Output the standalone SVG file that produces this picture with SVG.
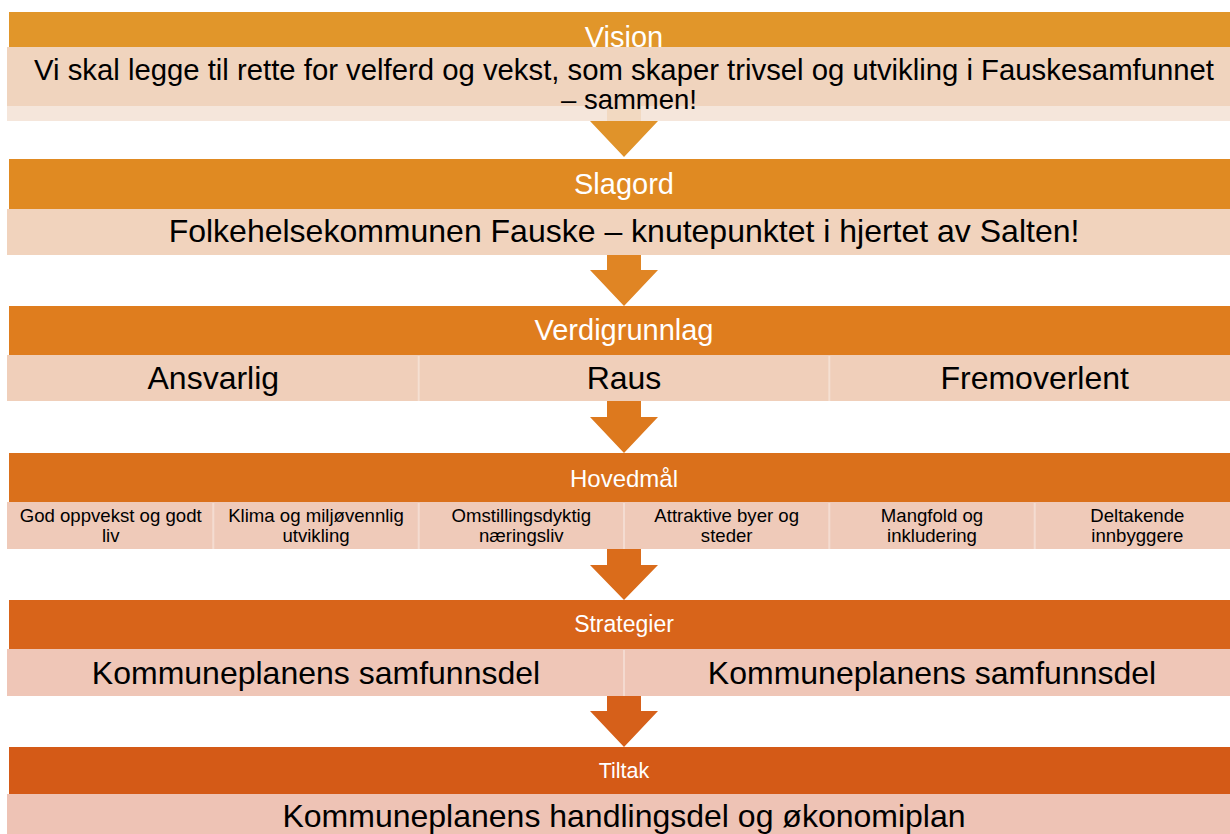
<svg xmlns="http://www.w3.org/2000/svg" width="1230" height="834" viewBox="0 0 1230 834">
<style>
  text { font-family: "Liberation Sans", Arial, sans-serif; text-anchor: middle; }
  .title { fill: #ffffff; }
  .t29 { font-size: 29px; }
  .t24 { font-size: 24px; }
  .big { font-size: 32px; fill: #000000; }
  .small { font-size: 18.6px; fill: #000000; }
  .div { stroke: #ffffff; stroke-opacity: 0.35; stroke-width: 2; }
</style>
<rect x="0" y="0" width="1230" height="834" fill="#ffffff"/>

<g id="connectors">
  <polygon points="607,100 641,100 641,121 658,121 624,157 590,121 607,121" fill="#e0932a"/>
  <polygon points="607,255 641,255 641,270 658,270 624,306 590,270 607,270" fill="#e08524"/>
  <polygon points="607,401 641,401 641,417 658,417 624,453 590,417 607,417" fill="#dd791e"/>
  <polygon points="607,549 641,549 641,565 658,565 624,600 590,565 607,565" fill="#da6c1b"/>
  <polygon points="607,696 641,696 641,711 658,711 624,747 590,711 607,711" fill="#d6601a"/>
</g>

<g id="vision">
  <rect x="9" y="12" width="1231" height="40" fill="#e1962a"/>
  <text class="title t29" x="624" y="47">Vision</text>
  <rect x="7" y="47" width="1233" height="59" fill="#f0d4be"/>
  <rect x="7" y="106" width="1233" height="15" fill="#f4e3d6" fill-opacity="0.88"/>
  <text font-size="29.3" x="624" y="80">Vi skal legge til rette for velferd og vekst, som skaper trivsel og utvikling i Fauskesamfunnet</text>
  <text font-size="27.5" x="697" y="109" style="text-anchor:end">– sammen!</text>
</g>

<g id="slagord">
  <rect x="9" y="159" width="1231" height="50" fill="#e08a22"/>
  <text class="title t29" x="624" y="194">Slagord</text>
  <rect x="7" y="209" width="1233" height="46" fill="#f1d3bd"/>
  <text class="big" x="624" y="242">Folkehelsekommunen Fauske – knutepunktet i hjertet av Salten!</text>
</g>

<g id="verdigrunnlag">
  <rect x="9" y="306" width="1231" height="49" fill="#df7d1e"/>
  <text class="title t29" x="624" y="340">Verdigrunnlag</text>
  <rect x="7" y="355" width="1233" height="46" fill="#f0cfba"/>
  <line class="div" x1="418.7" y1="356" x2="418.7" y2="401"/>
  <line class="div" x1="829.3" y1="356" x2="829.3" y2="401"/>
  <text class="big" x="213.3" y="389">Ansvarlig</text>
  <text class="big" x="624" y="389">Raus</text>
  <text class="big" x="1034.7" y="389">Fremoverlent</text>
</g>

<g id="hovedmal">
  <rect x="9" y="453" width="1231" height="49" fill="#da701b"/>
  <text class="title t24" x="624" y="487">Hovedmål</text>
  <rect x="7" y="502" width="1233" height="47" fill="#efcab9"/>
  <line class="div" x1="213.3" y1="503" x2="213.3" y2="549"/>
  <line class="div" x1="418.7" y1="503" x2="418.7" y2="549"/>
  <line class="div" x1="624" y1="503" x2="624" y2="549"/>
  <line class="div" x1="829.3" y1="503" x2="829.3" y2="549"/>
  <line class="div" x1="1034.7" y1="503" x2="1034.7" y2="549"/>
  <text class="small" x="110.7" y="522">God oppvekst og godt</text>
  <text class="small" x="110.7" y="542">liv</text>
  <text class="small" x="316" y="522">Klima og miljøvennlig</text>
  <text class="small" x="316" y="542">utvikling</text>
  <text class="small" x="521.3" y="522">Omstillingsdyktig</text>
  <text class="small" x="521.3" y="542">næringsliv</text>
  <text class="small" x="726.7" y="522">Attraktive byer og</text>
  <text class="small" x="726.7" y="542">steder</text>
  <text class="small" x="932" y="522">Mangfold og</text>
  <text class="small" x="932" y="542">inkludering</text>
  <text class="small" x="1137.3" y="522">Deltakende</text>
  <text class="small" x="1137.3" y="542">innbyggere</text>
</g>

<g id="strategier">
  <rect x="9" y="600" width="1231" height="49" fill="#d8641a"/>
  <text class="title" font-size="23" x="624" y="632">Strategier</text>
  <rect x="7" y="649" width="1233" height="47" fill="#efc6b7"/>
  <line class="div" x1="624" y1="650" x2="624" y2="696"/>
  <text class="big" x="316" y="684">Kommuneplanens samfunnsdel</text>
  <text class="big" x="932" y="684">Kommuneplanens samfunnsdel</text>
</g>

<g id="tiltak">
  <rect x="9" y="747" width="1231" height="47" fill="#d45a17"/>
  <text class="title" font-size="21.5" x="624" y="778">Tiltak</text>
  <rect x="7" y="794" width="1233" height="46" fill="#eec3b5"/>
  <text class="big" x="624" y="827">Kommuneplanens handlingsdel og økonomiplan</text>
</g>
</svg>
